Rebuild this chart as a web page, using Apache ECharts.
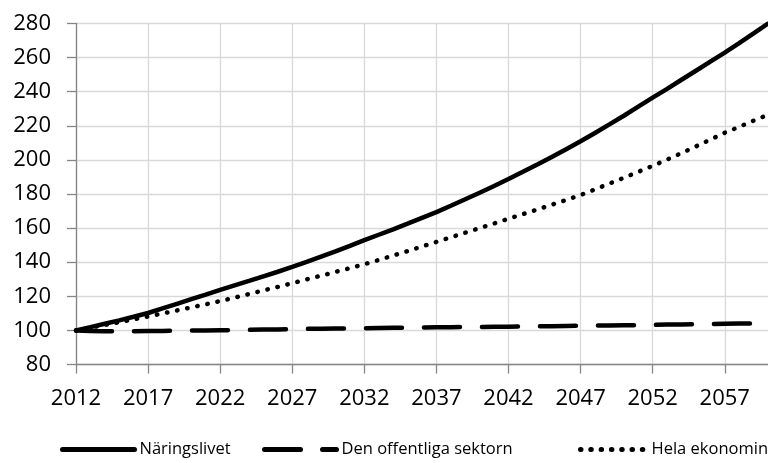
<!DOCTYPE html>
<html>
<head>
<meta charset="utf-8">
<script src="https://cdn.jsdelivr.net/npm/echarts@6/dist/echarts.min.js"></script>
<style>
  html, body { margin: 0; padding: 0; background: #fff; }
  #chart { width: 768px; height: 463px; }
</style>
</head>
<body>
<div id="chart"></div>
<script>
// Years 2012–2060
const years = [
  '2012','2013','2014','2015','2016','2017','2018','2019','2020','2021',
  '2022','2023','2024','2025','2026','2027','2028','2029','2030','2031',
  '2032','2033','2034','2035','2036','2037','2038','2039','2040','2041',
  '2042','2043','2044','2045','2046','2047','2048','2049','2050','2051',
  '2052','2053','2054','2055','2056','2057','2058','2059','2060'
];

// Index, 2012 = 100
const naringslivet = [
  100.0, 101.9, 103.9, 105.9, 108.0, 110.2, 112.9, 115.6, 118.3, 121.0,
  123.8, 126.4, 129.0, 131.7, 134.4, 137.2, 140.2, 143.3, 146.4, 149.6,
  152.9, 156.1, 159.3, 162.6, 166.0, 169.4, 173.1, 176.9, 180.7, 184.7,
  188.8, 193.0, 197.3, 201.7, 206.3, 210.9, 215.8, 220.8, 225.9, 231.2,
  236.5, 241.7, 247.0, 252.3, 257.6, 262.9, 268.5, 274.2, 280.0
];

const offentligaSektorn = [
  100.0, 99.6, 99.5, 99.5, 99.5, 99.6, 99.7, 99.8, 99.9, 100.0,
  100.1, 100.2, 100.3, 100.5, 100.6, 100.8, 100.9, 101.0, 101.1, 101.2,
  101.3, 101.4, 101.5, 101.6, 101.7, 101.8, 101.9, 102.0, 102.0, 102.1,
  102.2, 102.3, 102.4, 102.5, 102.6, 102.7, 102.8, 102.9, 103.0, 103.1,
  103.2, 103.4, 103.5, 103.6, 103.8, 103.9, 104.0, 104.1, 104.1
];

const helaEkonomin = [
  100.0, 101.6, 103.2, 104.8, 106.5, 108.2, 109.9, 111.7, 113.5, 115.3,
  117.2, 119.2, 121.3, 123.4, 125.5, 127.7, 129.9, 132.1, 134.3, 136.5,
  138.8, 141.3, 143.9, 146.5, 149.2, 151.9, 154.6, 157.3, 160.0, 162.7,
  165.5, 168.2, 170.9, 173.7, 176.5, 179.4, 182.7, 186.1, 189.5, 193.0,
  196.5, 200.2, 204.0, 207.9, 211.9, 215.9, 219.4, 223.0, 226.5
];

const seriesNames = ['Näringslivet', 'Den offentliga sektorn', 'Hela ekonomin'];

const axisGrey = '#868686';
const gridGrey = '#d9d9d9';
const labelFont = 'Open Sans';

const chart = echarts.init(document.getElementById('chart'), null, { renderer: 'canvas' });

// Shared legend styling: plain line samples, no marker symbol
const legendBase = {
  top: 441,
  padding: 0,
  itemHeight: 12,
  textStyle: { fontFamily: labelFont, fontSize: 16.5, color: '#000' },
  itemStyle: { opacity: 0 },
  lineStyle: { width: 5 },
  selectedMode: false
};

chart.setOption({
  animation: false,
  backgroundColor: '#fff',
  grid: { left: 76, right: 0, top: 23.5, bottom: 98.5, containLabel: false },
  legend: [
    Object.assign({}, legendBase, { left: 60, itemWidth: 72, data: [seriesNames[0]] }),
    Object.assign({}, legendBase, { left: 262, itemWidth: 72, data: [seriesNames[1]] }),
    Object.assign({}, legendBase, { left: 578, itemWidth: 66, data: [seriesNames[2]] })
  ],
  xAxis: {
    type: 'category',
    data: years,
    boundaryGap: false,
    axisLine: { show: true, lineStyle: { color: axisGrey, width: 1.3 } },
    axisTick: { show: true, interval: 4, length: 9, lineStyle: { color: axisGrey, width: 1.3 } },
    axisLabel: { interval: 4, margin: 23, color: '#000', fontFamily: labelFont, fontSize: 22 },
    splitLine: { show: true, interval: 4, lineStyle: { color: gridGrey, width: 1.3 } }
  },
  yAxis: {
    type: 'value',
    min: 80,
    max: 280,
    interval: 20,
    axisLine: { show: true, lineStyle: { color: axisGrey, width: 1.3 } },
    axisTick: { show: true, length: 9, lineStyle: { color: axisGrey, width: 1.3 } },
    axisLabel: { margin: 25, color: '#000', fontFamily: labelFont, fontSize: 22 },
    splitLine: { show: true, lineStyle: { color: gridGrey, width: 1.3 } }
  },
  series: [
    {
      name: seriesNames[0],
      type: 'line',
      data: naringslivet,
      symbol: 'none',
      lineStyle: { color: '#000', width: 4.5, cap: 'round' },
      itemStyle: { color: '#000' },
      z: 3
    },
    {
      name: seriesNames[1],
      type: 'line',
      data: offentligaSektorn,
      symbol: 'none',
      lineStyle: { color: '#000', width: 4.5, type: [36, 22], cap: 'round' },
      itemStyle: { color: '#000' },
      z: 2
    },
    {
      name: seriesNames[2],
      type: 'line',
      data: helaEkonomin,
      symbol: 'none',
      lineStyle: { color: '#000', width: 4.5, type: [0.5, 9.8], cap: 'round' },
      itemStyle: { color: '#000' },
      z: 4
    }
  ]
});
</script>
</body>
</html>
